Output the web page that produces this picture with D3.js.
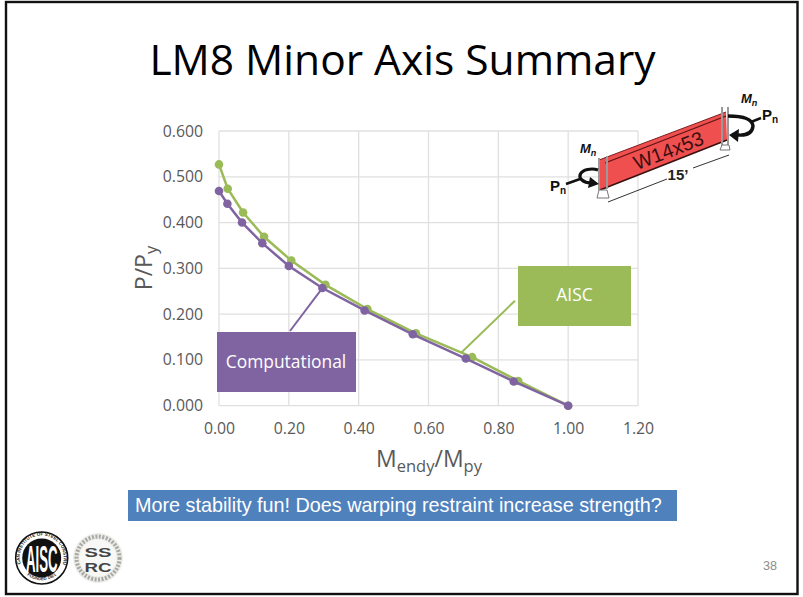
<!DOCTYPE html>
<html>
<head>
<meta charset="utf-8">
<script src="https://cdn.jsdelivr.net/npm/d3@7"></script>
<style>
  html, body { margin:0; padding:0; background:#fff; }
  svg { display:block; }
  text { font-family:"Open Sans", sans-serif; }
</style>
</head>
<body>
<svg id="chart" width="803" height="597"></svg>
<script>
// --- data ---
const aiscX = [0, 0.025, 0.069, 0.129, 0.207, 0.305, 0.425, 0.564, 0.725, 0.857, 1.0];
const aiscY = [0.527, 0.474, 0.422, 0.369, 0.317, 0.264, 0.211, 0.158, 0.106, 0.054, 0];
const compX = [0, 0.024, 0.066, 0.124, 0.2, 0.296, 0.417, 0.555, 0.707, 0.844, 1.0];
const compY = [0.469, 0.441, 0.4, 0.355, 0.305, 0.257, 0.208, 0.156, 0.103, 0.053, 0];
const xTicks = [0, 0.2, 0.4, 0.6, 0.8, 1.0, 1.2];
const yTicks = [0, 0.1, 0.2, 0.3, 0.4, 0.5, 0.6];

const GREEN = '#9bbb59', PURPLE = '#8064a2', GRID = '#e0e0e0', INK = '#595959';
const ARIAL = '"Liberation Sans", sans-serif';

const svg = d3.select('#chart');

// --- slide ---
svg.append('rect').attr('x', 6).attr('y', 2).attr('width', 791.5).attr('height', 592)
  .attr('fill', '#fff').attr('stroke', '#111').attr('stroke-width', 2.4);

svg.append('text').attr('x', 402.5).attr('y', 75).attr('text-anchor', 'middle')
  .attr('font-size', 42.5).attr('fill', '#000').text('LM8 Minor Axis Summary');

// --- scales ---
const x = d3.scaleLinear().domain([0, 1.2]).range([219, 638]);
const y = d3.scaleLinear().domain([0, 0.6]).range([405.7, 131]);

// --- grid ---
const grid = svg.append('g');
grid.selectAll('line.h').data(yTicks).join('line').attr('class', 'h')
  .attr('x1', x(0)).attr('x2', x(1.2))
  .attr('y1', d => y(d)).attr('y2', d => y(d))
  .attr('stroke', GRID).attr('stroke-width', 1.3);
grid.selectAll('line.v').data(xTicks).join('line').attr('class', 'v')
  .attr('x1', d => x(d)).attr('x2', d => x(d))
  .attr('y1', y(0.6)).attr('y2', y(0))
  .attr('stroke', GRID).attr('stroke-width', 1.3);

// --- axes ---
const xAxis = svg.append('g').attr('transform', `translate(0,${y(0)})`)
  .call(d3.axisBottom(x).tickValues(xTicks).tickFormat(d3.format('.2f')).tickSize(0).tickPadding(17));
const yAxis = svg.append('g').attr('transform', `translate(${x(0)},0)`)
  .call(d3.axisLeft(y).tickValues(yTicks).tickFormat(d3.format('.3f')).tickSize(0).tickPadding(16));
[xAxis, yAxis].forEach(a => {
  a.select('.domain').remove();
  a.selectAll('text').attr('font-size', 15.8).attr('fill', INK)
    .style('font-family', '"Open Sans", sans-serif');
});

// axis titles
const xTitle = svg.append('text').attr('x', 429).attr('y', 467).attr('text-anchor', 'middle')
  .attr('font-size', 23).attr('fill', INK);
xTitle.append('tspan').text('M');
xTitle.append('tspan').attr('font-size', 16.5).attr('dy', 5).text('endy');
xTitle.append('tspan').attr('dy', -5).text('/M');
xTitle.append('tspan').attr('font-size', 16.5).attr('dy', 5).text('py');

const yTitle = svg.append('text').attr('transform', 'translate(152,268) rotate(-90)')
  .attr('text-anchor', 'middle').attr('font-size', 23).attr('fill', INK);
yTitle.append('tspan').text('P/P');
yTitle.append('tspan').attr('font-size', 16.5).attr('dy', 5).text('y');

// --- series ---
const line = d3.line().x(d => x(d[0])).y(d => y(d[1]));
function drawSeries(xs, ys, color){
  const pts = d3.zip(xs, ys);
  const g = svg.append('g');
  g.append('path').datum(pts).attr('d', line).attr('fill', 'none')
    .attr('stroke', color).attr('stroke-width', 2.5);
  g.selectAll('circle').data(pts).join('circle')
    .attr('cx', d => x(d[0])).attr('cy', d => y(d[1])).attr('r', 4.3).attr('fill', color);
}
drawSeries(aiscX, aiscY, GREEN);
drawSeries(compX, compY, PURPLE);

// --- callouts ---
svg.append('line').attr('x1', 290).attr('y1', 331).attr('x2', x(compX[5])).attr('y2', y(compY[5]))
  .attr('stroke', PURPLE).attr('stroke-width', 2);
svg.append('rect').attr('x', 217).attr('y', 332).attr('width', 139).attr('height', 60).attr('fill', PURPLE);
svg.append('text').attr('x', 286).attr('y', 368).attr('text-anchor', 'middle')
  .attr('font-size', 17.4).attr('fill', '#fff').text('Computational');

svg.append('line').attr('x1', 515).attr('y1', 300.7).attr('x2', 461.7).attr('y2', 352.3)
  .attr('stroke', GREEN).attr('stroke-width', 2);
svg.append('rect').attr('x', 518).attr('y', 266).attr('width', 113).attr('height', 60).attr('fill', GREEN);
svg.append('text').attr('x', 574.5).attr('y', 301).attr('text-anchor', 'middle')
  .attr('font-size', 17.4).attr('fill', '#fff').text('AISC');

// --- banner ---
svg.append('rect').attr('x', 128).attr('y', 490).attr('width', 549).attr('height', 31).attr('fill', '#4f81bd');
svg.append('text').attr('x', 135).attr('y', 512).attr('font-size', 19.8).attr('fill', '#fff')
  .style('font-family', ARIAL)
  .text('More stability fun! Does warping restraint increase strength?');

// --- page number ---
svg.append('text').attr('x', 777).attr('y', 570).attr('text-anchor', 'end')
  .attr('font-size', 12.6).attr('fill', '#8c8c8c').style('font-family', ARIAL).text('38');

// --- beam sketch ---
const beam = svg.append('g');
beam.append('polygon').attr('points', '599,160 726,112 727,140 600,190').attr('fill', '#f04f4f');
beam.append('line').attr('x1', 605).attr('y1', 163).attr('x2', 726).attr('y2', 116)
  .attr('stroke', '#5a1414').attr('stroke-width', 1.2);
beam.append('line').attr('x1', 599).attr('y1', 160).attr('x2', 726).attr('y2', 112)
  .attr('stroke', '#7a2020').attr('stroke-width', 1);
beam.append('line').attr('x1', 600).attr('y1', 190).attr('x2', 727).attr('y2', 140)
  .attr('stroke', '#3a1010').attr('stroke-width', 1.6);
[[599, 158, 190], [607, 156, 189], [722, 107, 146], [728, 107, 146]].forEach(p => {
  beam.append('line').attr('x1', p[0]).attr('y1', p[1]).attr('x2', p[0]).attr('y2', p[2])
    .attr('stroke', '#9a9a9a').attr('stroke-width', 2);
});
beam.append('polygon').attr('points', '599,190 607,190 609,198 597,198')
  .attr('fill', '#fff').attr('stroke', '#777');
beam.append('polygon').attr('points', '722,145 729,145 730,150 720,150')
  .attr('fill', '#fff').attr('stroke', '#777');
beam.append('text').attr('transform', 'translate(671,157) rotate(-21)').attr('text-anchor', 'middle')
  .attr('font-size', 20).attr('fill', '#3a1010').style('font-family', ARIAL).text('W14x53');
// dimension line
beam.append('line').attr('x1', 608).attr('y1', 202).attr('x2', 667).attr('y2', 179).attr('stroke', '#333');
beam.append('line').attr('x1', 693).attr('y1', 168).attr('x2', 729).attr('y2', 155).attr('stroke', '#333');
beam.append('text').attr('x', 678).attr('y', 180).attr('text-anchor', 'middle').attr('font-size', 15)
  .attr('font-weight', 700).attr('fill', '#222').style('font-family', ARIAL).text('15’');
// end moments
beam.append('path').attr('d', 'M598,170 A12,7 0 1 0 591,183').attr('fill', 'none')
  .attr('stroke', '#111').attr('stroke-width', 3.2);
beam.append('polygon').attr('points', '590,177 599,184 588,188').attr('fill', '#111');
beam.append('path').attr('d', 'M728,116 Q752,116 753,126 Q752,136 738,135').attr('fill', 'none')
  .attr('stroke', '#111').attr('stroke-width', 3.4);
beam.append('polygon').attr('points', '739,129 729,135 738,142').attr('fill', '#111');
beam.append('line').attr('x1', 566).attr('y1', 184).attr('x2', 580).attr('y2', 179).attr('stroke', '#111').attr('stroke-width', 2.5);
beam.append('line').attr('x1', 751).attr('y1', 122).attr('x2', 761).attr('y2', 118).attr('stroke', '#111').attr('stroke-width', 2.5);
function endLabel(t, px, py, sub){
  const l = beam.append('text').attr('x', px).attr('y', py).attr('font-weight', 700).attr('font-size', 15)
    .attr('fill', '#111').style('font-family', ARIAL);
  l.append('tspan').text(t);
  l.append('tspan').attr('font-size', 10).attr('dy', 3).text(sub);
}
endLabel('P', 550, 191, 'n');
endLabel('P', 762, 120, 'n');
function momentLabel(px, py){
  const l = beam.append('text').attr('x', px).attr('y', py).attr('font-weight', 700).attr('font-style', 'italic')
    .attr('font-size', 13).attr('fill', '#111').style('font-family', ARIAL);
  l.append('tspan').text('M');
  l.append('tspan').attr('font-size', 9).attr('dy', 3).text('n');
}
momentLabel(580, 153);
momentLabel(741, 103);

// --- logos ---
const aisc = svg.append('g').attr('transform', 'translate(41.7,558)');
aisc.append('circle').attr('r', 26).attr('fill', '#fff').attr('stroke', '#111').attr('stroke-width', 1.6);
aisc.append('path').attr('id', 'aiscRing').attr('fill', 'none')
  .attr('d', 'M-21,6 A22,22 0 1 1 21,6');
aisc.append('text').attr('font-size', 4.6).attr('font-weight', 700).attr('fill', '#222')
  .style('font-family', ARIAL)
  .append('textPath').attr('href', '#aiscRing').attr('startOffset', '50%').attr('text-anchor', 'middle')
  .text('AMERICAN INSTITUTE OF STEEL CONSTRUCTION');
aisc.append('path').attr('id', 'aiscRingLow').attr('fill', 'none')
  .attr('d', 'M-20,11 A23.5,23.5 0 0 0 20,11');
aisc.append('text').attr('font-size', 4.2).attr('font-weight', 700).attr('fill', '#222')
  .style('font-family', ARIAL)
  .append('textPath').attr('href', '#aiscRingLow').attr('startOffset', '50%').attr('text-anchor', 'middle')
  .text('FOUNDED 1921');
aisc.append('circle').attr('r', 19.5).attr('fill', '#111');
aisc.append('text').attr('transform', 'translate(0,13.5) scale(0.66,1.85)').attr('text-anchor', 'middle')
  .attr('font-size', 20).attr('font-weight', 700).attr('fill', '#fff').style('font-family', ARIAL).text('AISC');

const ssrc = svg.append('g').attr('transform', 'translate(98,558)');
ssrc.append('circle').attr('r', 25).attr('fill', '#ecece8');
ssrc.append('circle').attr('r', 21.5).attr('fill', 'none').attr('stroke', '#a8a8a4')
  .attr('stroke-width', 4).attr('stroke-dasharray', '2 1.5');
ssrc.append('circle').attr('r', 18.5).attr('fill', '#f8f8f6');
ssrc.append('text').attr('y', -1.5).attr('text-anchor', 'middle').attr('font-size', 13)
  .attr('textLength', 27).attr('lengthAdjust', 'spacingAndGlyphs')
  .attr('font-weight', 700).attr('fill', '#444').style('font-family', ARIAL).text('SS');
ssrc.append('text').attr('y', 13.5).attr('text-anchor', 'middle').attr('font-size', 13)
  .attr('textLength', 27).attr('lengthAdjust', 'spacingAndGlyphs')
  .attr('font-weight', 700).attr('fill', '#444').style('font-family', ARIAL).text('RC');
</script>
</body>
</html>
